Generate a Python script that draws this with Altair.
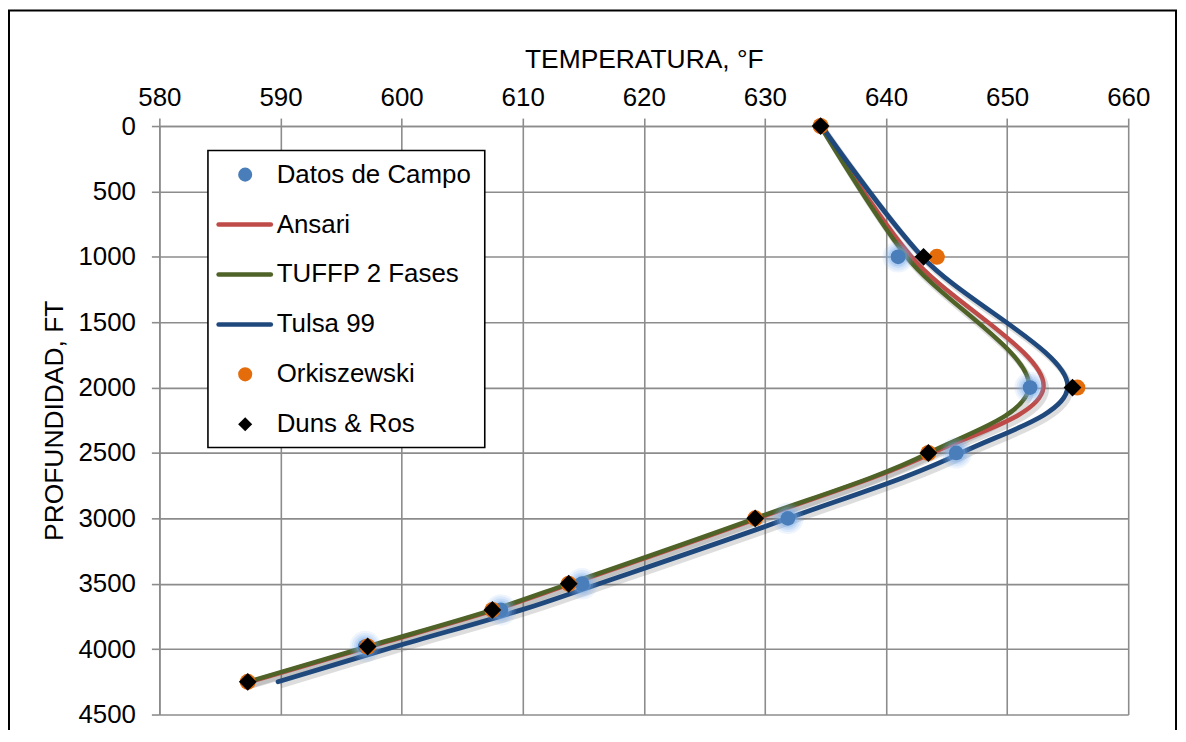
import altair as alt
import pandas as pd

# ---------------- data ----------------
depth_model = [0, 1000, 2000, 2500, 3000, 3500, 3700, 3980, 4250]
ansari = [634.6, 642.1, 653.0, 643.8, 629.4, 614.0, 607.7, 597.4, 587.5]
tuffp = [634.6, 641.7, 651.8, 643.5, 629.2, 613.8, 607.5, 597.2, 587.3]
tulsa = [634.7, 643.0, 655.0, 646.2, 631.9, 616.3, 609.9, 599.5, 589.8]

depth_campo = [1000, 2000, 2500, 3000, 3500, 3700, 3980]
temp_campo = [641.0, 651.9, 645.8, 631.9, 614.9, 608.2, 597.0]

depth_ork = [0, 1000, 2000, 2500, 3000, 3500, 3700, 3980, 4250]
temp_ork = [634.6, 644.2, 655.8, 643.5, 629.2, 613.8, 607.5, 597.2, 587.3]

depth_duns = [0, 1000, 2000, 2500, 3000, 3500, 3700, 3980, 4250]
temp_duns = [634.6, 643.1, 655.4, 643.5, 629.2, 613.8, 607.5, 597.2, 587.3]

x_ticks = [580, 590, 600, 610, 620, 630, 640, 650, 660]
y_ticks = [0, 500, 1000, 1500, 2000, 2500, 3000, 3500, 4000, 4500]

legend_labels = ["Datos de Campo", "Ansari", "TUFFP 2 Fases", "Tulsa 99", "Orkiszewski", "Duns & Ros"]
legend_kind = ["circle", "line", "line", "line", "circle", "diamond"]
legend_colors = ["#4A7EBB", "#BE4B48", "#4F6228", "#1F497D", "#E46C0A", "#000000"]

FONT = "Liberation Sans"
GRID = "#8C8C8C"
CURVE = "catmull-rom"

# ---------------- frames ----------------
def line_df(vals):
    return pd.DataFrame({"depth": depth_model, "temp": vals})

campo_df = pd.DataFrame({"depth": depth_campo, "temp": temp_campo})
ork_df = pd.DataFrame({"depth": depth_ork, "temp": temp_ork})
duns_df = pd.DataFrame({"depth": depth_duns, "temp": temp_duns})

leg_df = pd.DataFrame({
    "row": list(range(len(legend_labels))),
    "label": legend_labels,
    "kind": legend_kind,
    "color": legend_colors,
})

x_scale = alt.Scale(domain=[580, 660], nice=False, zero=False)
y_scale = alt.Scale(domain=[0, 4500], reverse=True, nice=False, zero=False)

X_axis = alt.Axis(
    orient="top", values=x_ticks, title="TEMPERATURA, °F", grid=True, format="d",
    gridColor=GRID, gridWidth=1.6, tickColor=GRID, tickWidth=1.6, tickSize=8,
    domainColor=GRID, domainWidth=1.6, labelFontSize=26, labelColor="black",
    labelFont=FONT, labelPadding=8, titleFont=FONT, titleFontSize=26.5,
    titleFontWeight="normal", titleColor="black", titleBaseline="alphabetic",
    titleY=-58.5, labelFlush=False, labelOverlap=False,
)
Y_axis = alt.Axis(
    values=y_ticks, title="PROFUNDIDAD, FT", grid=True, format="d",
    gridColor=GRID, gridWidth=1.6, tickColor=GRID, tickWidth=1.6, tickSize=8,
    domainColor=GRID, domainWidth=1.6, labelFontSize=26, labelColor="black",
    labelFont=FONT, labelPadding=16, titleFont=FONT, titleFontSize=26.5,
    titleFontWeight="normal", titleColor="black", titleBaseline="alphabetic",
    titleX=-97.5, labelFlush=False, labelOverlap=False,
)

def enc(chart):
    return chart.encode(
        x=alt.X("temp:Q", scale=x_scale, axis=X_axis),
        y=alt.Y("depth:Q", scale=y_scale, axis=Y_axis),
        order=alt.Order("depth:Q"),
    )

layers = []

# shadows of lines
for vals in (ansari, tuffp, tulsa):
    layers.append(enc(alt.Chart(line_df(vals)).mark_line(
        interpolate=CURVE, color="#555555", opacity=0.2,
        strokeWidth=6, xOffset=2.5, yOffset=3.5)))

# lines
layers.append(enc(alt.Chart(line_df(ansari)).mark_line(
    interpolate=CURVE, color="#BE4B48", strokeWidth=4.5, strokeCap="round")))
layers.append(enc(alt.Chart(line_df(tuffp)).mark_line(
    interpolate=CURVE, color="#4F6228", strokeWidth=4.5, strokeCap="round")))
layers.append(enc(alt.Chart(line_df(tulsa)).mark_line(
    interpolate=CURVE, color="#1F497D", strokeWidth=4.8, strokeCap="round")))

# campo glow + points
for sz, op in ((1000, 0.12), (750, 0.16), (520, 0.22), (360, 0.3)):
    layers.append(enc(alt.Chart(campo_df).mark_circle(size=sz, color="#7FB0EE", opacity=op)))
layers.append(enc(alt.Chart(campo_df).mark_circle(size=220, color="#4A7EBB", opacity=1)))

# Orkiszewski
layers.append(enc(alt.Chart(ork_df).mark_circle(size=260, color="#E46C0A", opacity=1)))
# Duns & Ros
layers.append(enc(alt.Chart(duns_df).mark_point(
    shape="diamond", filled=True, size=320, color="#000000", opacity=1)))

main = alt.layer(*layers)

# ---------------- legend ----------------
leg_y = alt.Y("row:Q", scale=alt.Scale(domain=[0, 5], range=[48.8, 299.5]), axis=None)
leg_color = alt.Color("color:N", scale=None, legend=None)

legend_box = alt.Chart(pd.DataFrame({"a": [0]})).mark_rect(
    fill="white", stroke="black", strokeWidth=1.6
).encode(x=alt.value(48.8), x2=alt.value(326.8), y=alt.value(24.5), y2=alt.value(322.8))

legend_lines = alt.Chart(leg_df).transform_filter(alt.datum.kind == "line").mark_rule(
    strokeWidth=4.5, strokeCap="round"
).encode(x=alt.value(59.5), x2=alt.value(112), y=leg_y, color=leg_color)

legend_circles = alt.Chart(leg_df).transform_filter(alt.datum.kind == "circle").mark_circle(
    size=200, opacity=1
).encode(x=alt.value(86.2), y=leg_y, color=leg_color)

legend_diamond = alt.Chart(leg_df).transform_filter(alt.datum.kind == "diamond").mark_point(
    shape="diamond", filled=True, size=200, opacity=1
).encode(x=alt.value(86.2), y=leg_y, color=leg_color)

legend_text = alt.Chart(leg_df).mark_text(
    align="left", baseline="middle", font=FONT, fontSize=26, color="black"
).encode(x=alt.value(117.8), y=leg_y, text="label:N")

# outer frame
frame = alt.Chart(pd.DataFrame({"a": [0]})).mark_rect(
    fillOpacity=0, stroke="black", strokeWidth=2
).encode(x=alt.value(-151), x2=alt.value(1021), y=alt.value(-116), y2=alt.value(640))

chart = alt.layer(
    main, legend_box, legend_lines, legend_circles, legend_diamond, legend_text, frame
).resolve_scale(y="independent").properties(
    width=973, height=591,
    autosize=alt.AutoSizeParams(type="none"),
    padding={"left": 152, "top": 117, "right": 50, "bottom": 14},
    background="white",
).configure_view(stroke=None)

chart.save("out.html", embed_options={"renderer": "svg", "actions": False})
